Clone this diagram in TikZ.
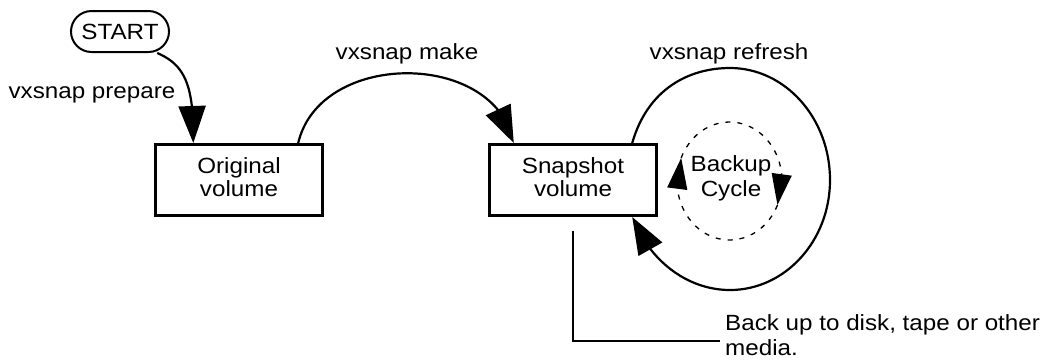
\documentclass[tikz,border=0pt]{standalone}
\usepackage{fontspec}
\setmainfont{Liberation Sans}[FakeStretch=1.1]
\usetikzlibrary{arrows.meta,bending,calc}
\begin{document}
\begin{tikzpicture}[x=1pt,y=1pt,
  lbl/.style={font=\fontsize{22}{24}\selectfont, inner sep=0pt},
  box/.style={draw, line width=3.4pt, minimum width=166.6pt, minimum height=70.6pt, inner sep=0pt, align=center, font=\fontsize{22}{23.5}\selectfont},
  term/.style={draw, line width=2pt, rounded corners=20.5pt, minimum width=98pt, minimum height=41pt, inner sep=0pt, font=\fontsize{22}{24}\selectfont},
  flow/.style={line width=2.2pt, -{Triangle[length=37pt,width=27pt]}},
  cycarrow/.style={line width=1.3pt, dash pattern=on 5pt off 7pt, -{Triangle[length=31pt,width=20pt]}},
  leader/.style={line width=2.4pt}]
\useasboundingbox (0,0) rectangle (1048,-360);
% nodes
\node[term] (start) at (120,-31.5) {START};
\node[box] (orig) at (239,-180) {Original\\volume\rule[-6pt]{0pt}{0pt}};
\node[box] (snap) at (573,-180) {Snapshot\\volume\rule[-6pt]{0pt}{0pt}};
\node[lbl, anchor=base] (prep) at (92,-98) {vxsnap prepare};
\node[lbl, anchor=base] (make) at (407,-59) {vxsnap make};
\node[lbl, anchor=base] (refr) at (729,-59) {vxsnap refresh};
\node[lbl, align=center, font=\fontsize{22}{25}\selectfont] (cycle) at (731,-178) {Backup\\Cycle};
\node[lbl, align=left, anchor=north west, font=\fontsize{22}{25}\selectfont] (note) at (725,-314) {Back up to disk, tape or other\\media.};
% connectors
\draw[flow] (start.-30) .. controls (185,-65) and (194,-85) .. (orig.141);
\draw[flow] (orig.32) .. controls (320,-50) and (495,-50) .. (snap.148);
\draw[flow] (snap.32) .. controls (648,-88) and (690,-68) .. (730,-68)
  .. controls (785,-68) and (830,-118) .. (830,-180)
  .. controls (830,-241) and (785,-290) .. (730,-290)
  .. controls (685,-290) and (648,-258) .. (snap.-32);
% backup cycle
\coordinate (cyc) at (729.5,-181);
\draw[cycarrow] ($(cyc)+(336:52.5 and 59)$) arc[start angle=336, end angle=157, x radius=52.5, y radius=59];
\draw[cycarrow] ($(cyc)+(157:52.5 and 59)$) arc[start angle=157, end angle=-24, x radius=52.5, y radius=59];
% leader to note
\coordinate (ld1) at ($(snap.south)+(0,-13.5)$);
\coordinate (ld2) at (720,-340.7);
\draw[leader] (ld1) |- (ld2);
\end{tikzpicture}
\end{document}
